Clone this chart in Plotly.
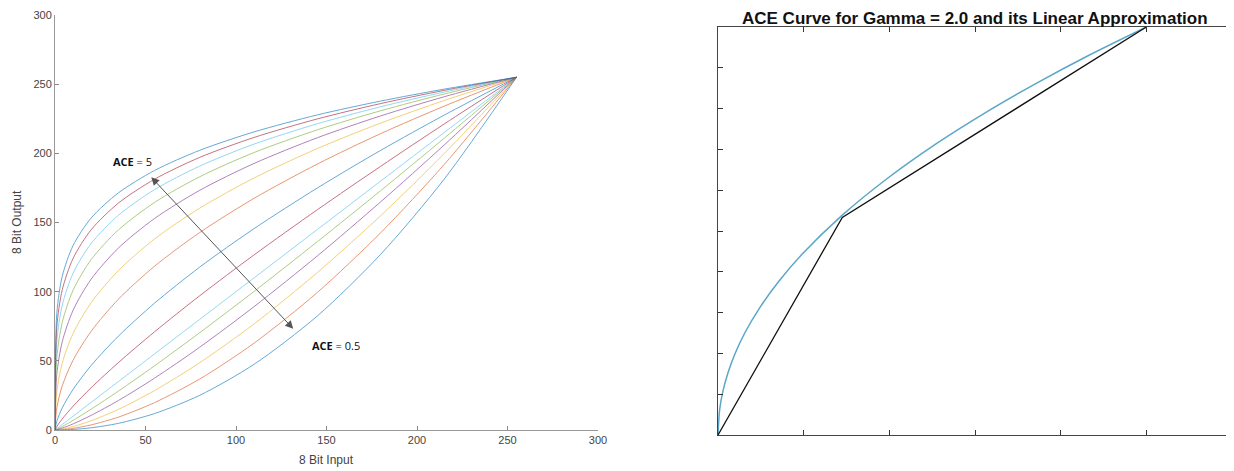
import plotly.graph_objects as go

# ---------------- data ----------------
x_in = [0, 1, 4, 10, 20, 35, 55, 80, 110, 145, 180, 215, 255]

ace_5_0 = [0, 84.2, 111.1, 133.4, 153.3, 171.4, 187.6, 202.2, 215.5, 227.8, 237.8, 246.4, 255]
ace_4_5 = [0, 74.5, 101.3, 124.1, 144.8, 164.0, 181.3, 197.1, 211.5, 224.9, 236.0, 245.5, 255]
ace_4_0 = [0, 63.8, 90.2, 113.4, 134.9, 155.2, 173.8, 190.8, 206.7, 221.4, 233.7, 244.3, 255]
ace_3_5 = [0, 52.4, 77.8, 101.1, 123.2, 144.6, 164.5, 183.1, 200.6, 217.0, 230.8, 242.9, 255]
ace_3_0 = [0, 40.2, 63.8, 86.6, 109.1, 131.5, 152.9, 173.3, 192.7, 211.3, 227.1, 240.9, 255]
ace_2_5 = [0, 27.8, 48.4, 69.8, 92.1, 115.2, 138.1, 160.4, 182.2, 203.5, 221.9, 238.2, 255]
ace_2_0 = [0, 16.0, 31.9, 50.5, 71.4, 94.5, 118.4, 142.8, 167.5, 192.3, 214.3, 234.1, 255]
ace_1_5 = [0, 6.3, 16.0, 29.4, 46.7, 67.8, 91.7, 117.8, 145.6, 175.0, 202.2, 227.6, 255]
ace_1_2 = [0, 2.5, 8.0, 17.2, 30.6, 48.7, 71.0, 97.1, 126.6, 159.3, 190.7, 221.2, 255]
ace_1_0 = [0, 1.0, 4.0, 10.0, 20.0, 35.0, 55.0, 80.0, 110.0, 145.0, 180.0, 215.0, 255]
ace_0_9 = [0, 0.5, 2.5, 7.0, 15.1, 28.1, 46.4, 70.4, 100.2, 136.2, 173.1, 210.9, 255]
ace_0_8 = [0, 0.3, 1.4, 4.4, 10.6, 21.3, 37.5, 59.9, 89.2, 125.9, 165.0, 206.0, 255]
ace_0_7 = [0, 0.1, 0.7, 2.5, 6.7, 14.9, 28.5, 48.7, 76.7, 113.9, 155.0, 199.8, 255]
ace_0_6 = [0, 0.0, 0.3, 1.2, 3.7, 9.3, 19.8, 36.9, 62.8, 99.5, 142.7, 191.9, 255]
ace_0_5 = [0, 0.0, 0.1, 0.4, 1.6, 4.8, 11.9, 25.1, 47.5, 82.5, 127.1, 181.3, 255]

ace_names = ["0.5", "0.6", "0.7", "0.8", "0.9", "1.0", "1.2", "1.5",
             "2.0", "2.5", "3.0", "3.5", "4.0", "4.5", "5.0"]
ace_series = [ace_0_5, ace_0_6, ace_0_7, ace_0_8, ace_0_9, ace_1_0, ace_1_2, ace_1_5,
              ace_2_0, ace_2_5, ace_3_0, ace_3_5, ace_4_0, ace_4_5, ace_5_0]

left_ticks = [0, 50, 100, 150, 200, 250, 300]

# right panel: gamma = 2.0 curve and its 2-segment linear approximation
gamma_x = [0, 1, 3, 6, 10, 16, 25, 36, 50, 74, 100, 130, 160, 190, 220, 255]
gamma_y = [0, 16.0, 27.7, 39.1, 50.5, 63.9, 79.8, 95.8, 112.9, 137.4, 159.7, 182.1, 202.0, 220.1, 236.9, 255]
approx_x = [0, 74, 255]
approx_y = [0, 136, 255]

# arrow & labels
arrow_tip = (53.2, 182.7)
arrow_tail = (132.4, 72.1)
label_hi = ("<b>ACE</b> = 5", 43, 194)
label_lo = ("<b>ACE</b> = 0.5", 155, 61)

# ---------------- styling ----------------
matlab = ["#0072BD", "#D95319", "#EDB120", "#7E2F8E", "#77AC30", "#4DBEEE", "#A2142F"]
OFF = 8                      # default page body margin
W, H = 1234 - OFF, 471 - OFF


def px_x(p):
    return (p - OFF) / W


def px_y(p):
    return (H - (p - OFF)) / H


fig = go.Figure()

for i, ys in enumerate(ace_series):
    fig.add_trace(go.Scatter(
        x=x_in, y=ys, mode="lines", name="ACE = " + ace_names[i],
        line=dict(color=matlab[i % 7], width=1, shape="spline", smoothing=0.8),
        opacity=0.6, xaxis="x", yaxis="y", showlegend=False,
        hoverinfo="skip"))

fig.add_trace(go.Scatter(
    x=gamma_x, y=gamma_y, mode="lines",
    line=dict(color="#5aa7c8", width=1.5, shape="spline", smoothing=0.8),
    xaxis="x2", yaxis="y2", showlegend=False, hoverinfo="skip"))
fig.add_trace(go.Scatter(
    x=approx_x, y=approx_y, mode="lines",
    line=dict(color="#111111", width=1.3),
    xaxis="x2", yaxis="y2", showlegend=False, hoverinfo="skip"))

tickfont = dict(family="Liberation Sans, Arial", size=11, color="#444444")

fig.update_layout(
    width=W, height=H,
    margin=dict(l=0, r=0, t=0, b=0),
    paper_bgcolor="white", plot_bgcolor="white",
    xaxis=dict(domain=[px_x(55), px_x(598)], range=[0, 300],
               tickvals=left_ticks, ticks="inside", ticklen=4,
               tickcolor="#888888", showline=True, linecolor="#999999",
               linewidth=1, showgrid=False, zeroline=False,
               tickfont=tickfont, automargin=False, anchor="y"),
    yaxis=dict(domain=[px_y(430), px_y(15)], range=[0, 300],
               tickvals=left_ticks, ticks="inside", ticklen=4,
               tickcolor="#888888", showline=True, linecolor="#999999",
               linewidth=1, showgrid=False, zeroline=False,
               tickfont=tickfont, automargin=False, anchor="x"),
    xaxis2=dict(domain=[px_x(718), px_x(1232)], range=[0, 306],
                dtick=51, tick0=0, ticks="inside", ticklen=5,
                tickcolor="#333333", showline=True, mirror="allticks",
                linecolor="#444444", linewidth=1, showgrid=False,
                zeroline=False, showticklabels=False, automargin=False,
                anchor="y2"),
    yaxis2=dict(domain=[px_y(435), px_y(27)], range=[0, 255],
                dtick=25.5, tick0=0, ticks="inside", ticklen=5,
                tickcolor="#333333", showline=True, mirror="allticks",
                linecolor="#444444", linewidth=1, showgrid=False,
                zeroline=False, showticklabels=False, automargin=False,
                anchor="x2"),
)

center = dict(xanchor="center", yanchor="middle", showarrow=False)
annotations = [
    dict(x=arrow_tip[0], y=arrow_tip[1], ax=arrow_tail[0], ay=arrow_tail[1],
         xref="x", yref="y", axref="x", ayref="y", text="",
         showarrow=True, arrowhead=2, arrowside="end+start",
         arrowsize=1.6, arrowwidth=1, arrowcolor="#555555"),
    dict(x=label_hi[1], y=label_hi[2], xref="x", yref="y", text=label_hi[0],
         font=dict(family="Open Sans, Lato", size=11, color="#111111"), **center),
    dict(x=label_lo[1], y=label_lo[2], xref="x", yref="y", text=label_lo[0],
         font=dict(family="Open Sans, Lato", size=11, color="#111111"), **center),
    dict(x=px_x(326), y=px_y(460), xref="paper", yref="paper", text="8 Bit Input",
         font=dict(family="Liberation Sans, Arial", size=12, color="#444444"), **center),
    dict(x=px_x(17), y=px_y(222), xref="paper", yref="paper", text="8 Bit Output",
         textangle=-90,
         font=dict(family="Liberation Sans, Arial", size=12, color="#444444"), **center),
    dict(x=px_x(975), y=px_y(18.5), xref="paper", yref="paper",
         text="<b>ACE Curve for Gamma = 2.0 and its Linear Approximation</b>",
         font=dict(family="Liberation Sans, Arial", size=17, color="#111111"), **center),
]
fig.update_layout(annotations=annotations)

fig.write_html("out.html")
